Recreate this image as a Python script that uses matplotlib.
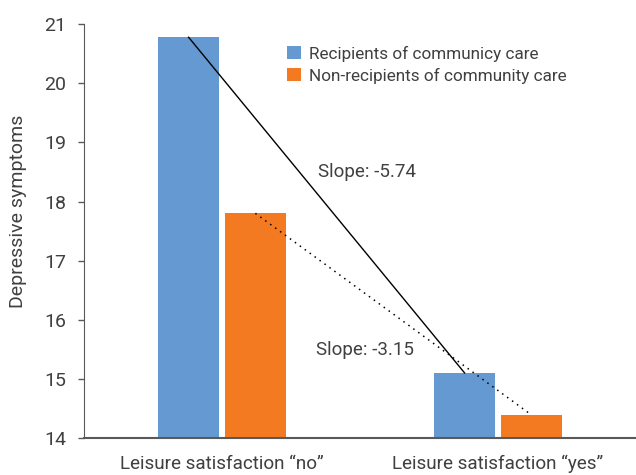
import matplotlib.pyplot as plt
import numpy as np

categories = ['Leisure satisfaction \u201cno\u201d', 'Leisure satisfaction \u201cyes\u201d']
recipients = [20.78, 15.10]
non_recipients = [17.80, 14.39]
series_names = ['Recipients of communicy care', 'Non-recipients of community care']
slope_labels = ['Slope: -5.74', 'Slope: -3.15']

blue = '#6499D2'
orange = '#F47A21'
txt = '#404040'
font = ['Liberation Sans Narrow', 'Roboto', 'DejaVu Sans']
plt.rcParams['font.family'] = font

fig = plt.figure(figsize=(6.36, 4.75), dpi=100)
ax = fig.add_axes([0.132, 0.078, 0.868, 0.871])

x = np.arange(len(categories))
w = 0.22
off = 0.121
ax.bar(x - off, recipients, w, color=blue, label=series_names[0], zorder=2)
ax.bar(x + off, non_recipients, w, color=orange, label=series_names[1], zorder=2)

# lines joining bar tops
ax.plot(x - off, recipients, color='black', lw=1.0, zorder=3)
ax.plot(x + off, non_recipients, color='black', lw=1.1, ls=(0, (1, 3)), zorder=3)

ax.text(0.348, 18.5, slope_labels[0], fontsize=13.5, color=txt, ha='left', va='center')
ax.text(0.341, 15.49, slope_labels[1], fontsize=13.5, color=txt, ha='left', va='center')

ax.set_xlim(-0.5, 1.5)
ax.set_ylim(14, 21)
ax.set_yticks(range(14, 22))
ax.set_xticks(x)
ax.set_xticklabels(categories, fontsize=13.6, color=txt)
ax.tick_params(axis='x', length=0, pad=12)
ax.tick_params(axis='y', length=4, width=1, color='#595959', labelsize=14,
               labelcolor=txt, pad=9)
ax.set_ylabel('Depressive symptoms', fontsize=14, color=txt)
ax.yaxis.set_label_coords(-0.103, 0.548)

for s in ['top', 'right']:
    ax.spines[s].set_visible(False)
ax.spines['left'].set_color('#595959')
ax.spines['bottom'].set_color('#595959')
ax.spines['bottom'].set_linewidth(1.5)

ax.legend(loc='upper left', bbox_to_anchor=(0.34, 0.985), frameon=False,
          fontsize=12.3, handlelength=0.8, handleheight=0.8, handletextpad=0.5,
          labelspacing=0.35, labelcolor=txt)

fig.savefig('out.png', dpi=100)
